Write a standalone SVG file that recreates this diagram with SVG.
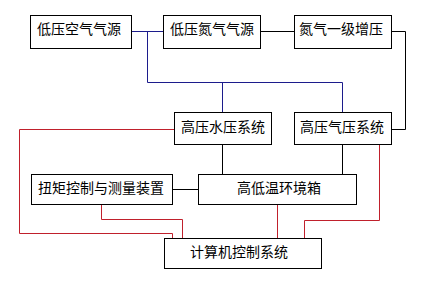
<svg xmlns="http://www.w3.org/2000/svg" width="433" height="283" viewBox="0 0 433 283">
<style>
rect{fill:#fff;stroke:#000;stroke-width:1}
text{font-family:"Noto Sans CJK SC","Noto Sans",sans-serif;font-size:14px;text-anchor:middle;fill:#000}
.b{fill:none;stroke:#1c1c8c;stroke-width:1}
.k{fill:none;stroke:#000;stroke-width:1}
.r{fill:none;stroke:#c0202c;stroke-width:1}
</style>
<rect x="0" y="0" width="433" height="283" style="stroke:none"/>
<g id="connectors">
<path class="b" d="M131.5 31.5H163.5M147.5 31.5V82.5H342.5V112.5M222.5 82.5V112.5"/>
<path class="k" d="M260.5 31.5H294.5M391.5 31.5H405.5V129.5H391.5M172.5 189.5H198.5M222.5 144.5V174.5M342.5 144.5V174.5"/>
<path class="r" d="M174.5 129.5H19.5V233.5H172.5V238.5M101.5 204.5V219.5H182.5V238.5M277.5 204.5V238.5M379.5 144.5V220.5H304.5V238.5"/>
</g>
<g id="air"><rect x="30.5" y="15.5" width="101" height="33"/><text x="79" y="34">低压空气气源</text></g>
<g id="n2"><rect x="163.5" y="15.5" width="97" height="33"/><text x="212" y="34">低压氮气气源</text></g>
<g id="boost"><rect x="294.5" y="15.5" width="97" height="33"/><text x="341" y="34">氮气一级增压</text></g>
<g id="hpwater"><rect x="174.5" y="112.5" width="97" height="32"/><text x="223" y="132">高压水压系统</text></g>
<g id="hpgas"><rect x="294.5" y="112.5" width="97" height="32"/><text x="342" y="132">高压气压系统</text></g>
<g id="torque"><rect x="31.5" y="174.5" width="141" height="30"/><text x="101" y="193">扭矩控制与测量装置</text></g>
<g id="chamber"><rect x="198.5" y="174.5" width="158" height="30"/><text x="279" y="193">高低温环境箱</text></g>
<g id="computer"><rect x="164.5" y="238.5" width="157" height="30"/><text x="239" y="257">计算机控制系统</text></g>
</svg>
